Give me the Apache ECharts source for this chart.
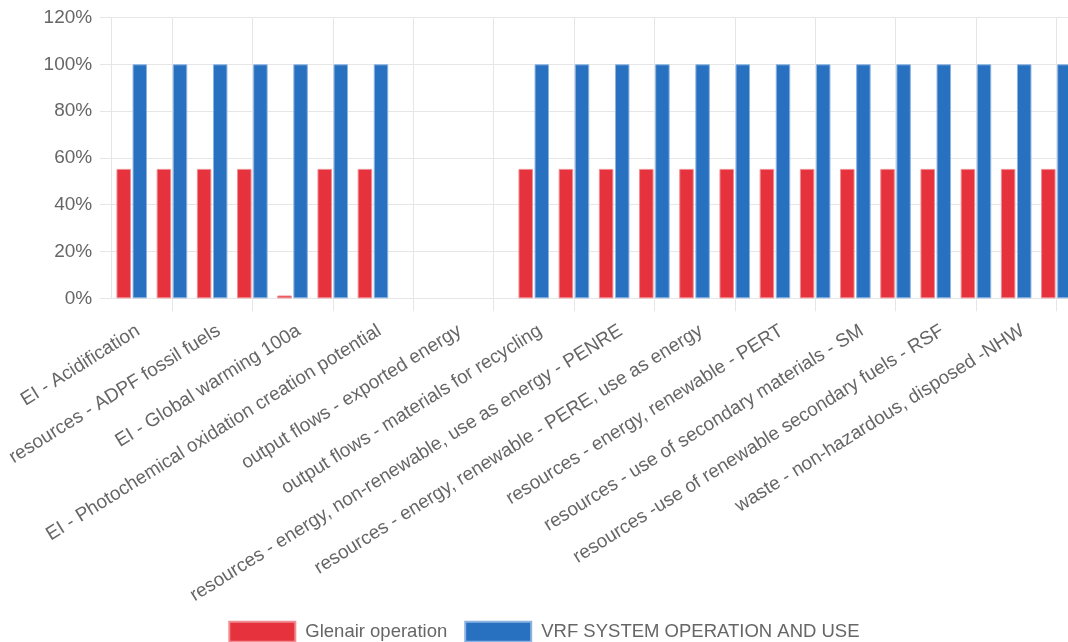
<!DOCTYPE html>
<html>
<head>
<meta charset="utf-8">
<script src="https://cdn.jsdelivr.net/npm/echarts@6/dist/echarts.min.js"></script>
<style>
html,body{margin:0;padding:0;background:#fff;}
#chart{width:1068px;height:642px;}
</style>
</head>
<body>
<div id="chart"></div>
<script>
const categories = [
  "EI - Acidification",
  "resources - ADPE elements",
  "resources - ADPF fossil fuels",
  "EI - Eutrophication",
  "EI - Global warming 100a",
  "EI - Ozone depletion",
  "EI - Photochemical oxidation creation potential",
  "output flows - components for re-use",
  "output flows - exported energy",
  "output flows - materials for energy recovery",
  "output flows - materials for recycling",
  "resources - energy, non-renewable - PENRM, as material",
  "resources - energy, non-renewable, use as energy - PENRE",
  "resources - energy, non-renewable - PENRT",
  "resources - energy, renewable - PERE, use as energy",
  "resources - energy, renewable - PERM, as material",
  "resources - energy, renewable - PERT",
  "resources - net use of fresh water - FW",
  "resources - use of secondary materials - SM",
  "resources - use of non-renewable secondary fuels - NRSF",
  "resources -use of renewable secondary fuels - RSF",
  "waste - hazardous, disposed - HWD",
  "waste - non-hazardous, disposed -NHW",
  "waste - radioactive, disposed - RWD"
];
const seriesNames = ["Glenair operation", "VRF SYSTEM OPERATION AND USE"];
const glenair = [55.3,55.3,55.3,55.3,1.2,55.3,55.3,0,0,0,55.3,55.3,55.3,55.3,55.3,55.3,55.3,55.3,55.3,55.3,55.3,55.3,55.3,55.3];
const vrf     = [100,100,100,100,100,100,100,0,0,0,100,100,100,100,100,100,100,100,100,100,100,100,100,100];
const yTicks = [0, 20, 40, 60, 80, 100, 120];

const FONT = '"Liberation Sans", Arial, Helvetica, sans-serif';
const GRIDC = '#e6e6e6';
const TXT = '#666666';
const L = 111.66, W = 964.8, TOP = 17.5, BOT = 343.7;
const LABEL_DX = 6.5;

// half-category positions for grid lines at odd category centers
const halfSteps = [];
for (let i = 0; i <= categories.length * 2; i++) halfSteps.push(String(i));
const oddCenter = (idx) => idx % 4 === 3;

// zero-height bars draw nothing (no border line)
const toBarData = (arr) => arr.map(v => v === 0 ? {value: v, itemStyle: {borderWidth: 0, opacity: 0}} : v);

const chart = echarts.init(document.getElementById('chart'), null, {renderer: 'canvas'});
chart.setOption({
  animation: false,
  backgroundColor: '#ffffff',
  textStyle: {fontFamily: FONT},
  grid: [
    {left: L, width: W, top: TOP, bottom: BOT, outerBoundsMode: 'none', containLabel: false},
    {left: L + LABEL_DX, width: W, top: TOP, bottom: BOT, outerBoundsMode: 'none', containLabel: false}
  ],
  legend: {
    left: 228.3,
    top: 620.7,
    padding: 0,
    icon: 'rect',
    itemWidth: 66,
    itemHeight: 20,
    itemGap: 17,
    textStyle: {fontSize: 18.5, color: TXT, fontFamily: FONT, padding: [0, 0, 0, 5]},
    data: seriesNames
  },
  xAxis: [
    {
      type: 'category', gridIndex: 0, data: categories, position: 'bottom',
      axisLine: {show: true, lineStyle: {color: GRIDC, width: 1}},
      axisTick: {show: false}, axisLabel: {show: false}, splitLine: {show: false}
    },
    {
      type: 'category', gridIndex: 0, data: halfSteps, boundaryGap: false, position: 'bottom',
      axisLine: {show: false},
      axisTick: {show: true, length: 13, interval: oddCenter, lineStyle: {color: GRIDC, width: 1}},
      axisLabel: {show: false},
      splitLine: {show: true, interval: oddCenter, lineStyle: {color: GRIDC, width: 1}}
    },
    {
      type: 'category', gridIndex: 1, data: categories, position: 'bottom',
      axisLine: {show: false}, axisTick: {show: false}, splitLine: {show: false},
      axisLabel: {show: true, interval: 1, rotate: 32, margin: 31, fontSize: 19, color: TXT, fontFamily: FONT}
    }
  ],
  yAxis: [
    {
      type: 'value', gridIndex: 0, min: yTicks[0], max: yTicks[yTicks.length - 1], interval: 20,
      axisLine: {show: true, lineStyle: {color: GRIDC, width: 1}},
      axisTick: {show: true, length: 12, lineStyle: {color: GRIDC, width: 1}},
      axisLabel: {formatter: '{value}%', fontSize: 19, color: TXT, margin: 19.5, fontFamily: FONT},
      splitLine: {show: true, lineStyle: {color: GRIDC, width: 1}}
    },
    {type: 'value', gridIndex: 1, show: false, min: 0, max: 120}
  ],
  series: [
    {
      name: seriesNames[0], type: 'bar', xAxisIndex: 0, yAxisIndex: 0,
      data: toBarData(glenair), barWidth: 14.48, barGap: '11.1%',
      itemStyle: {color: '#e6323c', borderColor: 'rgba(240,140,146,1)', borderWidth: 1}
    },
    {
      name: seriesNames[1], type: 'bar', xAxisIndex: 0, yAxisIndex: 0,
      data: toBarData(vrf), barWidth: 14.48, barGap: '11.1%',
      itemStyle: {color: '#2870c0', borderColor: 'rgba(140,180,225,1)', borderWidth: 1}
    }
  ]
});
</script>
</body>
</html>
